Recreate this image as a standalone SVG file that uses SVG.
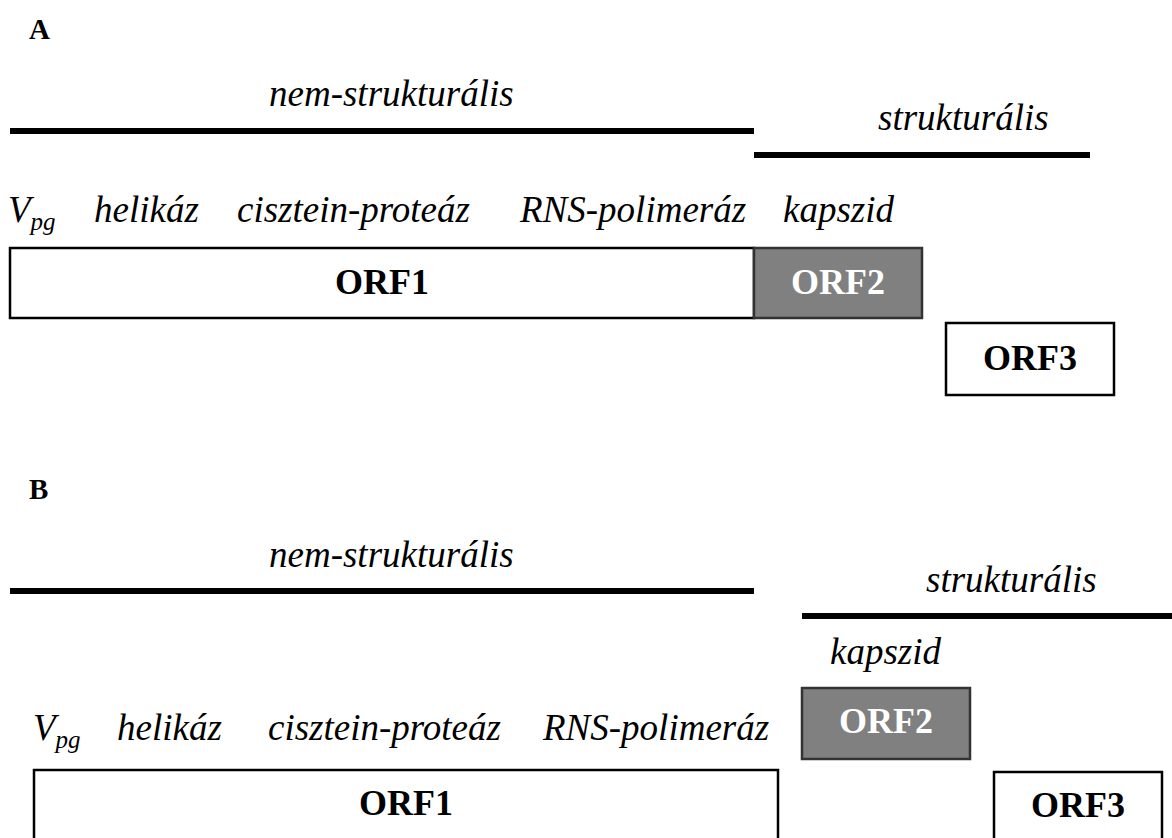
<svg xmlns="http://www.w3.org/2000/svg" width="1172" height="838" viewBox="0 0 1172 838">
<style>
.lbl{font-family:"Liberation Serif","Times New Roman",serif;font-style:italic;font-size:37px;fill:#000}
.sub{font-size:25px}
.head{font-family:"Liberation Serif","Times New Roman",serif;font-weight:bold;font-size:29px;fill:#000}
.orf{font-family:"Liberation Serif","Times New Roman",serif;font-weight:bold;font-size:36px;text-anchor:middle}
.box{fill:#fff;stroke:#000;stroke-width:2.5}
.gbox{fill:#808080;stroke:#333;stroke-width:2.5}
.bar{stroke:#000;stroke-width:6}
</style>
<rect width="1172" height="838" fill="#fff"/>
<g id="panelA">
<text class="head" x="29" y="39">A</text>
<text class="lbl" x="269" y="106">nem-strukturális</text>
<text class="lbl" x="878" y="130">strukturális</text>
<text class="lbl" x="8" y="222">V<tspan class="sub" dy="8">pg</tspan></text>
<text class="lbl" x="94" y="222">helikáz</text>
<text class="lbl" x="237" y="222">cisztein-proteáz</text>
<text class="lbl" x="520" y="222">RNS-polimeráz</text>
<text class="lbl" x="783" y="222">kapszid</text>
</g>
<g id="bars">
<line class="bar" x1="10" y1="131" x2="754" y2="131"/>
<line class="bar" x1="754" y1="155" x2="1090" y2="155"/>
<line class="bar" x1="10" y1="591" x2="754" y2="591"/>
<line class="bar" x1="802" y1="616" x2="1172" y2="616"/>
</g>
<g id="A_ORF1"><rect class="box" x="10" y="248" width="744" height="70"/><text class="orf" x="382" y="294">ORF1</text></g>
<g id="A_ORF2"><rect class="gbox" x="754" y="248" width="168" height="70"/><text class="orf" x="838" y="294" fill="#fff">ORF2</text></g>
<g id="A_ORF3"><rect class="box" x="946" y="323" width="168" height="72"/><text class="orf" x="1030" y="370">ORF3</text></g>
<g id="panelB">
<text class="head" x="29" y="499">B</text>
<text class="lbl" x="269" y="567">nem-strukturális</text>
<text class="lbl" x="926" y="592">strukturális</text>
<text class="lbl" x="830" y="664">kapszid</text>
<text class="lbl" x="33" y="740">V<tspan class="sub" dy="8">pg</tspan></text>
<text class="lbl" x="117" y="740">helikáz</text>
<text class="lbl" x="268" y="740">cisztein-proteáz</text>
<text class="lbl" x="543" y="740">RNS-polimeráz</text>
</g>
<g id="B_ORF1"><rect class="box" x="34" y="770" width="744" height="74"/><text class="orf" x="406" y="815">ORF1</text></g>
<g id="B_ORF2"><rect class="gbox" x="802" y="688" width="168" height="71"/><text class="orf" x="886" y="733" fill="#fff">ORF2</text></g>
<g id="B_ORF3"><rect class="box" x="994" y="772" width="168" height="74"/><text class="orf" x="1078" y="817">ORF3</text></g>
</svg>
